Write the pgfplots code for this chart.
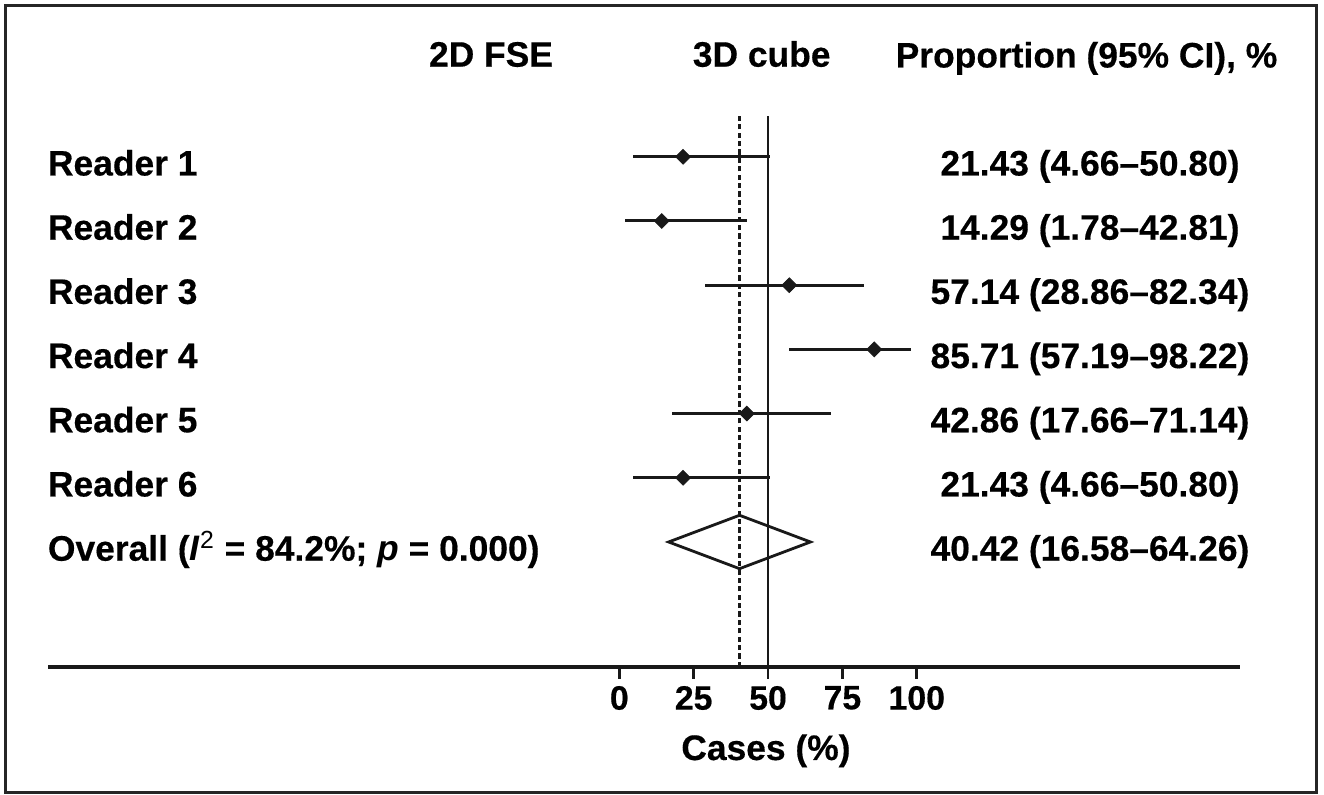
\documentclass[border=0pt]{standalone}
\usepackage{fontspec}
\setmainfont{Liberation Sans}[BoldFeatures={FakeBold=0.4}]
\usepackage{pgfplots}
\pgfplotsset{compat=1.18}
\usepackage{pgfplotstable}

% est = proportion, ep/em = distance to upper/lower CI, y = row position
\pgfplotstableread{
est ep em y
21.43 29.37 16.77 638.2
14.29 28.52 12.51 574.0
57.14 25.20 28.28 509.8
85.71 12.51 28.52 445.6
42.86 28.28 25.20 381.4
21.43 29.37 16.77 317.2
}\readers

\newcommand{\lbl}{\fontsize{17.7}{20}\selectfont\bfseries}

\begin{document}
\begin{tikzpicture}
\begin{axis}[
  scale only axis, width=596pt, height=283.5pt,
  xmin=-192.05, xmax=208.66, ymin=128, ymax=695,
  axis x line*=bottom, axis y line=none,
  x axis line style={-, line width=1.6pt, black!90},
  xtick={0,25,50,75,100}, xticklabels={0,25,50,75,100},
  tick align=outside, major tick length=6pt,
  xtick style={line width=1.4pt, black!90},
  xticklabel style={font=\fontsize{16.9}{20}\selectfont\bfseries},
  clip=false,
]
\addplot[black!90, line width=1.2pt] coordinates {(50,128) (50,679)};
\addplot[black!90, line width=1.3pt, dash pattern=on 2.6pt off 1.6pt] coordinates {(40.42,128) (40.42,679)};
\addplot[black!90, only marks, mark=square*, mark size=2.6pt, mark options={rotate=45, fill=black!90},
  error bars/.cd, x dir=both, x explicit, error mark=none,
  error bar style={line width=1.5pt, black!90}]
  table[x=est, y=y, x error plus=ep, x error minus=em]{\readers};
\addplot[black!90, line width=1.4pt] coordinates {(16.58,253.0) (40.42,279.7) (64.26,253.0) (40.42,226.3)} -- cycle;

% headers
\node[anchor=base, inner sep=0] at (axis cs:-43.13,728.3) {\lbl 2D FSE};
\node[anchor=base, inner sep=0] at (axis cs:47.87,728.3) {\lbl 3D cube};
\node[anchor=base, inner sep=0] at (axis cs:157.06,727.5) {\lbl Proportion (95\% CI), \%};

% row labels
\node[anchor=base west, inner sep=0] at (axis cs:-192.2,619.5) {\lbl Reader 1};
\node[anchor=base west, inner sep=0] at (axis cs:-192.2,555.3) {\lbl Reader 2};
\node[anchor=base west, inner sep=0] at (axis cs:-192.2,491.1) {\lbl Reader 3};
\node[anchor=base west, inner sep=0] at (axis cs:-192.2,426.9) {\lbl Reader 4};
\node[anchor=base west, inner sep=0] at (axis cs:-192.2,362.7) {\lbl Reader 5};
\node[anchor=base west, inner sep=0] at (axis cs:-192.2,298.5) {\lbl Reader 6};
\node[anchor=base west, inner sep=0] at (axis cs:-192.2,234.3) {\lbl Overall (\textit{I}\textsuperscript{\mdseries 2} = 84.2\%; \textit{p} = 0.000)};

% right column
\node[anchor=base, inner sep=0] at (axis cs:158.23,619.5) {\lbl 21.43 (4.66–50.80)};
\node[anchor=base, inner sep=0] at (axis cs:158.23,555.3) {\lbl 14.29 (1.78–42.81)};
\node[anchor=base, inner sep=0] at (axis cs:158.23,491.1) {\lbl 57.14 (28.86–82.34)};
\node[anchor=base, inner sep=0] at (axis cs:158.23,426.9) {\lbl 85.71 (57.19–98.22)};
\node[anchor=base, inner sep=0] at (axis cs:158.23,362.7) {\lbl 42.86 (17.66–71.14)};
\node[anchor=base, inner sep=0] at (axis cs:158.23,298.5) {\lbl 21.43 (4.66–50.80)};
\node[anchor=base, inner sep=0] at (axis cs:158.23,234.3) {\lbl 40.42 (16.58–64.26)};

% x label
\node[anchor=base, inner sep=0] at (axis cs:49.3,35) {\lbl Cases (\%)};

% frame and page extent
\draw[line width=1.5pt, black!85] (axis cs:-206.34,789.5) rectangle (axis cs:234.38,2.5);
\path (axis cs:-208.19,0) rectangle (axis cs:236.90,795);
\end{axis}
\end{tikzpicture}
\end{document}
